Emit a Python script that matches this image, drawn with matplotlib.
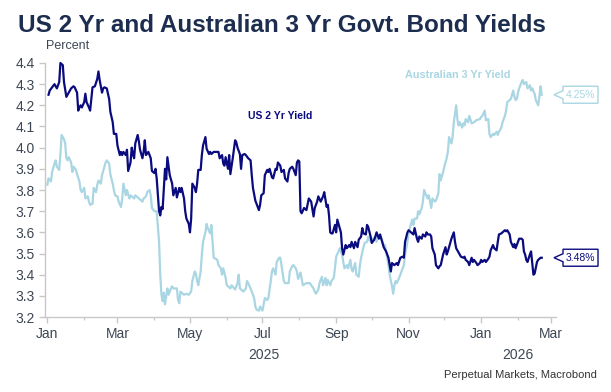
import pandas as pd
import matplotlib
matplotlib.use("Agg")
import matplotlib.pyplot as plt
import matplotlib.dates as mdates
from matplotlib.patches import Polygon
from matplotlib.transforms import IdentityTransform, blended_transform_factory

# ===============================================================================
#         Data
# ===============================================================================

start = pd.Timestamp("2025-01-01")

# US 2 Yr yield: days after 1 Jan 2025, percent
us_days = [
    1, 2, 4, 6, 8, 10, 11, 13, 14, 16,
    18, 20, 22, 23, 25, 26, 27, 28, 29, 31,
    32, 33, 35, 36, 37, 38, 40, 42, 43, 44,
    46, 47, 48, 50, 52, 53, 55, 56, 58, 59,
    61, 62, 63, 64, 66, 67, 68, 70, 71, 72,
    73, 74, 76, 77, 78, 80, 81, 82, 83, 85,
    87, 88, 90, 91, 92, 94, 95, 96, 97, 99,
    100, 101, 103,
    105, 106, 108, 109, 111, 112, 113, 115, 116, 117,
    119, 120, 121, 122, 124, 125, 126, 127, 129, 130,
    131, 133, 134, 136, 137, 138, 140, 142, 144, 145,
    147, 148, 149, 150, 152, 153, 154, 156, 158, 159,
    160, 162, 163, 164, 166, 167, 169, 171, 172, 173,
    175, 176, 178, 179, 180, 182, 183, 185, 186, 187,
    189, 190, 192, 193, 194, 196, 197, 199, 200, 202,
    203, 204, 206, 207, 209, 210, 211, 212, 213, 214,
    216, 218, 220, 222, 224, 225, 227, 228, 230, 232,
    233, 235, 236, 237, 238, 239, 240, 242, 243, 244,
    245, 247, 248, 249, 251, 252, 254, 255, 256, 258,
    259, 261, 262, 264, 265, 266, 268, 269, 270, 272,
    273, 275, 276, 277, 279, 280, 282, 283, 285, 286,
    287, 289, 290, 292, 294, 295, 297, 299, 300, 301,
    303, 304, 306, 308, 309, 311, 312, 313, 315, 316,
    318, 319, 320,
    322, 323, 324, 326, 327, 329, 330, 331, 333, 335,
    336, 337, 339, 340, 342, 343, 344, 345, 347, 348,
    350, 351, 352, 354, 355, 357, 358, 359, 361, 362,
    364, 365, 366, 368, 369, 371, 372, 373, 375, 376,
    378, 379, 380, 382, 383, 385, 386, 387, 389, 390,
    392, 393, 394, 396, 397, 399, 400, 401, 402, 403,
    404, 406, 407, 408, 409, 410, 412, 413, 415, 416,
]
us_yield = [
    4.25, 4.27, 4.285, 4.30, 4.28, 4.31, 4.40, 4.39, 4.31, 4.24,
    4.26, 4.28, 4.29, 4.285, 4.26, 4.175, 4.19, 4.20, 4.19, 4.215,
    4.255, 4.215, 4.19, 4.175, 4.23, 4.285, 4.29, 4.325, 4.36, 4.32,
    4.26, 4.28, 4.285, 4.28, 4.23, 4.17, 4.12, 4.065, 4.065, 4.01,
    3.965, 3.98, 3.965, 3.98, 3.965, 3.99, 3.89, 3.93, 4.00, 3.97,
    3.95, 4.02, 4.06, 4.03, 3.99, 3.95, 3.98, 4.035, 3.965, 3.98,
    3.95, 3.89, 3.88, 3.90, 3.855, 3.70, 3.68, 3.72, 3.71, 3.90,
    3.85, 3.955, 3.87,
    3.83, 3.775, 3.81, 3.765, 3.81, 3.79, 3.81, 3.76, 3.70, 3.665,
    3.64, 3.60, 3.665, 3.83, 3.81, 3.79, 3.83, 3.895, 3.895, 3.965,
    4.01, 4.05, 3.995, 3.97, 3.98, 3.97, 3.98, 3.98, 3.98, 3.95,
    3.965, 3.925, 3.915, 3.955, 3.90, 3.965, 3.875, 3.95, 4.035, 4.025,
    4.00, 3.97, 3.90, 3.965, 3.97, 3.965, 3.95, 3.94, 3.87, 3.81,
    3.75, 3.735, 3.705, 3.73, 3.775, 3.785, 3.87, 3.895, 3.885, 3.90,
    3.86, 3.855, 3.90, 3.895, 3.93, 3.915, 3.885, 3.895, 3.855, 3.84,
    3.88, 3.90, 3.91, 3.90, 3.87, 3.93, 3.94, 3.935, 3.70, 3.69,
    3.715, 3.705, 3.76, 3.745, 3.675, 3.715, 3.745, 3.77, 3.745, 3.77,
    3.79, 3.72, 3.73, 3.68, 3.60, 3.595, 3.595, 3.635, 3.60, 3.66,
    3.64, 3.60, 3.525, 3.495, 3.54, 3.525, 3.54, 3.53, 3.555, 3.525,
    3.555, 3.53, 3.565, 3.58, 3.62, 3.595, 3.59, 3.635, 3.625, 3.58,
    3.55, 3.565, 3.58, 3.60, 3.57, 3.59, 3.55, 3.53, 3.51, 3.495,
    3.48, 3.415, 3.455, 3.445, 3.455, 3.445, 3.48, 3.485, 3.48, 3.555,
    3.60, 3.61, 3.60, 3.59, 3.62, 3.57, 3.555, 3.58, 3.57, 3.59,
    3.58, 3.60, 3.59,
    3.59, 3.58, 3.525, 3.495, 3.445, 3.43, 3.44, 3.445, 3.495, 3.53,
    3.495, 3.51, 3.55, 3.57, 3.60, 3.555, 3.525, 3.515, 3.495, 3.485,
    3.48, 3.485, 3.47, 3.46, 3.445, 3.48, 3.46, 3.47, 3.455, 3.445,
    3.455, 3.47, 3.46, 3.47, 3.46, 3.475, 3.485, 3.515, 3.54, 3.525,
    3.515, 3.555, 3.59, 3.595, 3.60, 3.61, 3.605, 3.61, 3.59, 3.555,
    3.53, 3.545, 3.525, 3.555, 3.57, 3.57, 3.565, 3.51, 3.495, 3.47,
    3.46, 3.495, 3.51, 3.455, 3.40, 3.405, 3.46, 3.47, 3.48, 3.48,
]

# Australian 3 Yr yield: days after 1 Jan 2025, percent
au_days = [
    0, 1, 3, 4, 6, 7, 8, 10, 11, 12,
    14, 15, 16, 17, 18, 20, 21, 22, 24, 25,
    27, 28, 29, 31, 32, 34, 35, 36, 38, 39,
    41, 42, 43, 45, 46, 48, 49, 50, 52, 53,
    55, 56, 57, 59, 60, 62, 63, 64, 66, 67,
    69, 70, 73, 74, 77, 80, 81, 83, 84, 86,
    87, 88, 90, 92, 94, 95, 96, 97, 98, 99,
    101, 102, 104,
    105, 106, 109, 110, 111, 112, 114, 115, 117, 119,
    121, 122, 124, 125, 126, 127, 129, 130, 131, 133,
    134, 135, 137, 138, 139, 140, 143, 144, 146, 147,
    148, 150, 151, 152, 154, 155, 158, 160, 161, 162,
    165, 167, 168, 169, 171, 172, 174, 175, 176, 178,
    179, 181, 182, 183, 185, 186, 188, 189, 190, 192,
    193, 195, 196, 197, 199, 200, 203, 204, 206, 207,
    209, 210, 211, 213,
    215, 218, 221, 222, 224, 225, 226, 228, 229, 231,
    232, 234, 235, 236, 238, 239, 241, 242, 243, 245,
    246, 248, 249, 250, 252, 253, 255, 256, 257, 259,
    260, 262, 263, 264, 266, 267, 269, 270, 271, 273,
    274, 276, 277, 278, 281, 283, 284, 285, 287, 288,
    290, 291, 292, 293, 294, 296, 297, 299, 300, 301,
    303, 304, 306, 307, 308, 309, 311, 312, 313, 315,
    316, 317, 318, 320, 321,
    322, 323, 324, 326, 327, 329, 330, 331, 333, 334,
    336, 337, 338, 340, 341, 342, 343, 344, 345, 346,
    347, 349, 350, 351, 352, 354, 355, 357, 359, 361,
    364, 365, 366, 368, 369, 371, 372, 373, 375, 376,
    378, 379, 380, 382, 383, 385, 386, 387, 389, 390,
    392, 393, 394, 395, 396, 397, 399, 400, 401, 403,
    404, 406, 407, 408, 410, 411, 413, 414, 415, 416,
]
au_yield = [
    3.825, 3.855, 3.84, 3.885, 3.925, 3.94, 3.91, 3.895, 3.97, 4.06,
    4.04, 4.02, 3.95, 3.94, 3.955, 3.93, 3.885, 3.91, 3.895, 3.875,
    3.84, 3.80, 3.79, 3.81, 3.76, 3.77, 3.745, 3.73, 3.735, 3.81,
    3.79, 3.825, 3.845, 3.83, 3.87, 3.91, 3.93, 3.94, 3.925, 3.875,
    3.83, 3.80, 3.775, 3.77, 3.745, 3.72, 3.76, 3.83, 3.775, 3.80,
    3.76, 3.775, 3.76, 3.775, 3.76, 3.745, 3.76, 3.77, 3.79, 3.80,
    3.775, 3.715, 3.70, 3.70, 3.555, 3.40, 3.305, 3.275, 3.315, 3.26,
    3.335, 3.305, 3.335,
    3.345, 3.335, 3.335, 3.28, 3.265, 3.32, 3.31, 3.305, 3.31, 3.305,
    3.32, 3.37, 3.415, 3.405, 3.37, 3.35, 3.415, 3.495, 3.555, 3.60,
    3.64, 3.62, 3.595, 3.635, 3.555, 3.48, 3.47, 3.445, 3.43, 3.40,
    3.43, 3.385, 3.35, 3.345, 3.335, 3.35, 3.33, 3.36, 3.40, 3.335,
    3.32, 3.335, 3.37, 3.36, 3.335, 3.32, 3.29, 3.25, 3.235, 3.23,
    3.25, 3.23, 3.26, 3.29, 3.28, 3.29, 3.37, 3.415, 3.43, 3.40,
    3.46, 3.48, 3.48, 3.445, 3.37, 3.36, 3.36, 3.415, 3.44, 3.445,
    3.43, 3.415, 3.38, 3.41,
    3.35, 3.36, 3.36, 3.35, 3.335, 3.32, 3.31, 3.33, 3.36, 3.39,
    3.35, 3.385, 3.35, 3.375, 3.35, 3.37, 3.385, 3.43, 3.485, 3.51,
    3.525, 3.495, 3.46, 3.43, 3.445, 3.43, 3.47, 3.425, 3.415, 3.455,
    3.40, 3.39, 3.445, 3.48, 3.53, 3.55, 3.555, 3.58, 3.565, 3.55,
    3.57, 3.58, 3.555, 3.58, 3.57, 3.54, 3.54, 3.51, 3.445, 3.40,
    3.345, 3.31, 3.35, 3.37, 3.36, 3.385, 3.40, 3.43, 3.445, 3.495,
    3.555, 3.60, 3.64, 3.66, 3.635, 3.665, 3.665, 3.70, 3.685, 3.715,
    3.745, 3.80, 3.785, 3.76, 3.775,
    3.745, 3.715, 3.76, 3.745, 3.75, 3.785, 3.875, 3.845, 3.885, 3.91,
    3.95, 3.98, 4.05, 4.02, 4.05, 4.12, 4.16, 4.20, 4.135, 4.105,
    4.12, 4.095, 4.115, 4.105, 4.135, 4.12, 4.15, 4.115, 4.12, 4.13,
    4.135, 4.145, 4.15, 4.175, 4.13, 4.135, 4.065, 4.05, 4.065, 4.06,
    4.075, 4.06, 4.075, 4.095, 4.12, 4.15, 4.175, 4.215, 4.225, 4.23,
    4.27, 4.24, 4.225, 4.23, 4.26, 4.28, 4.31, 4.32, 4.30, 4.31,
    4.28, 4.295, 4.27, 4.28, 4.255, 4.225, 4.20, 4.24, 4.29, 4.25,
]

tick_dates = ["2025-01-01", "2025-03-01", "2025-05-01", "2025-07-01",
              "2025-09-01", "2025-11-01", "2026-01-01", "2026-03-01"]
tick_months = ["Jan", "Mar", "May", "Jul", "Sep", "Nov", "Jan", "Mar"]
y_ticks = [3.2, 3.3, 3.4, 3.5, 3.6, 3.7, 3.8, 3.9, 4.0, 4.1, 4.2, 4.3, 4.4]
year_labels = ["2025", "2026"]
year_centres = ["2025-07-02", "2026-02-01"]

# ===============================================================================
#         Style
# ===============================================================================

NAVY = "#0b0b80"
LIGHT = "#a9d6e2"
TITLE = "#1c2d4f"
TEXT = "#3d4754"
AXIS = "#c8c8c8"

plt.rcParams["font.family"] = ["Liberation Sans", "DejaVu Sans"]

fig = plt.figure(figsize=(6.11, 3.92), dpi=100)
ax = fig.add_axes([0.0736, 0.1913, 0.8364, 0.6480])

us_dates = start + pd.to_timedelta(us_days, unit="D")
au_dates = start + pd.to_timedelta(au_days, unit="D")

ax.plot(au_dates, au_yield, color=LIGHT, lw=1.6, clip_on=False)
ax.plot(us_dates, us_yield, color=NAVY, lw=1.6, clip_on=False)

ax.set_xlim(pd.Timestamp("2024-12-30"), pd.Timestamp("2026-03-05"))
ax.set_ylim(3.2, 4.4)
ax.set_yticks(y_ticks)
ax.set_yticklabels(["{:.1f}".format(v) for v in y_ticks])
ax.set_xticks(pd.to_datetime(tick_dates))
ax.set_xticklabels(tick_months)
ax.xaxis.set_minor_locator(mdates.MonthLocator())

for side in ["top", "right"]:
    ax.spines[side].set_visible(False)
for side in ["left", "bottom"]:
    ax.spines[side].set_color(AXIS)
    ax.spines[side].set_linewidth(1.0)

ax.tick_params(axis="both", which="major", labelsize=10, labelcolor=TEXT,
               color=AXIS, length=4, width=1)
ax.tick_params(axis="x", which="minor", color=AXIS, length=2, width=1)
ax.tick_params(axis="x", pad=3)

# year labels under the months
trans = blended_transform_factory(ax.transData, ax.transAxes)
for label, centre in zip(year_labels, year_centres):
    ax.text(pd.Timestamp(centre), -0.15, label, transform=trans,
            ha="center", va="center", fontsize=10, color=TEXT)

# series labels
ax.text(pd.Timestamp("2025-07-16"), 4.15, "US 2 Yr Yield", color=NAVY,
        fontsize=7.5, fontweight="bold", ha="center", va="center")
ax.text(pd.Timestamp("2025-12-12"), 4.345, "Australian 3 Yr Yield", color=LIGHT,
        fontsize=7.8, fontweight="bold", ha="center", va="center")

# titles and source
fig.text(0.029, 0.935, "US 2 Yr and Australian 3 Yr Govt. Bond Yields",
         fontsize=17.5, fontweight="bold", color=TITLE, ha="left", va="center")
fig.text(0.075, 0.882, "Percent", fontsize=9, color=TEXT, ha="left", va="center")
fig.text(0.977, 0.043, "Perpetual Markets, Macrobond", fontsize=8,
         color="#333333", ha="right", va="center")


def end_tag(date, value, text, color):
    """Draws the last-value tag with a pointer at the right of the plot."""
    _, y = ax.transData.transform((mdates.date2num(date), value))
    x = ax.bbox.x1 - 2
    h = 8.5
    verts = [(x, y), (x + 9, y + 4), (x + 9, y + h), (x + 44, y + h),
             (x + 44, y - h), (x + 9, y - h), (x + 9, y - 4)]
    tag = Polygon(verts, closed=True, facecolor="white", edgecolor=color,
                  lw=1.0, transform=IdentityTransform(), clip_on=False)
    fig.add_artist(tag)
    fig.text(x + 26.5, y, text, transform=IdentityTransform(), fontsize=7.5,
             color=color, ha="center", va="center")


end_tag(au_dates[-1], au_yield[-1], "{:.2f}%".format(au_yield[-1]), LIGHT)
end_tag(us_dates[-1], us_yield[-1], "{:.2f}%".format(us_yield[-1]), NAVY)

fig.savefig("out.png", dpi=100)
